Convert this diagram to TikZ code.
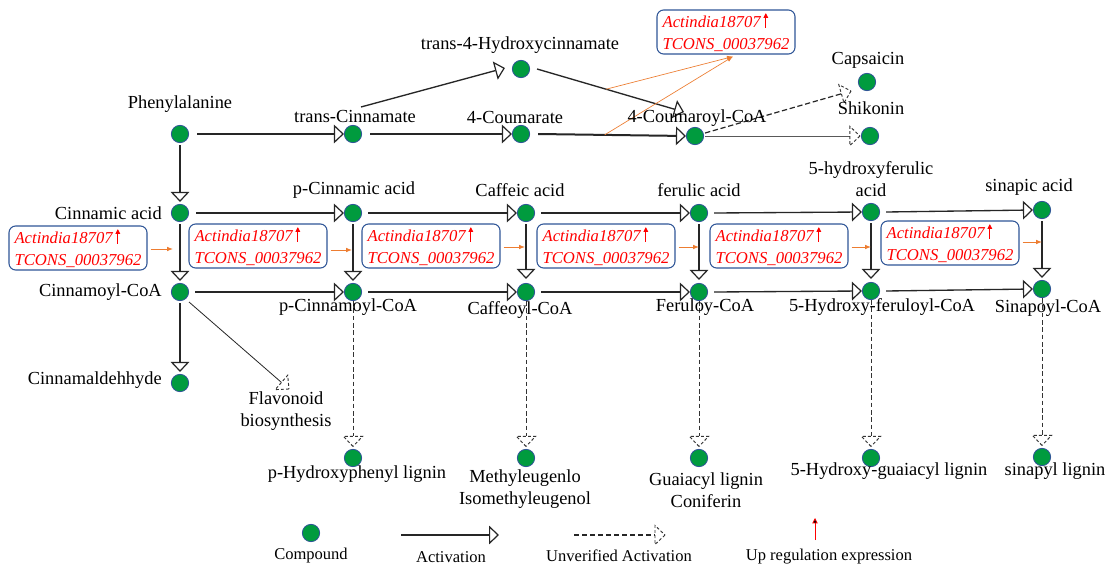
\documentclass[tikz,border=0pt]{standalone}
\usepackage{fontspec}
\setmainfont{Liberation Serif}
\usetikzlibrary{arrows.meta,calc}
\definecolor{cgreen}{RGB}{0,155,62}
\definecolor{cblue}{RGB}{47,85,151}
\definecolor{corange}{RGB}{237,125,49}
\definecolor{cred}{RGB}{255,0,0}
\newcommand{\upmark}{\,\tikz[baseline=0pt]\draw[cred,line width=0.6pt,-{Triangle[length=3.5pt,width=3.5pt]}] (0pt,-0.5pt) -- (0pt,10.5pt);}
\begin{document}
\begin{tikzpicture}[x=0.75pt,y=-0.75pt,
  cpd/.style={circle,fill=cgreen,draw=cblue,line width=0.6pt,minimum size=13pt,inner sep=0pt},
  lbl/.style={inner sep=0pt,align=center,font=\fontsize{13.8}{16.5}\selectfont},
  leg/.style={inner sep=0pt,align=center,font=\fontsize{12.4}{15}\selectfont},
  act/.style={draw=black!85,line width=1pt,-{Triangle[open,length=7.5pt,width=14pt,line width=0.9pt]}},
  udash/.style={draw=black!80,line width=0.6pt,dash pattern=on 3.5pt off 2pt},
  ldash/.style={draw=black!85,line width=0.9pt,dash pattern=on 4pt off 2pt},
  thinline/.style={draw=black!85,line width=0.6pt},
  gbox/.style={draw=cblue,rounded corners=5pt,line width=0.8pt,fill=white,minimum width=103.5pt,minimum height=33pt,inner xsep=3pt,inner ysep=2pt,align=left,text=cred,font=\fontsize{12.5}{16.5}\selectfont\itshape},
  oarr/.style={draw=corange,line width=0.7pt,-{Latex[length=4.5pt,width=3.5pt]}},
  redarr/.style={draw=cred,line width=0.6pt,-{Triangle[length=4pt,width=4pt]}},
  pics/dtip/.style={code={\draw[black!80,line width=0.7pt,dash pattern=on 2.2pt off 1.6pt] (0,0) -- (-10,9.5) -- (-10,-9.5) -- cycle;}}
]
\useasboundingbox[fill=white] (0,0) rectangle (1107,564);

% compounds
\node[cpd] (phe) at (180,134) {};
\node[cpd] (tcin) at (353,134) {};
\node[cpd] (t4h) at (521,69) {};
\node[cpd] (coum) at (521,134) {};
\node[cpd] (ccoa) at (695,136) {};
\node[cpd] (caps) at (867,82) {};
\node[cpd] (shik) at (870,136) {};
\node[cpd] (cin) at (180,213) {};
\node[cpd] (pca) at (353,213) {};
\node[cpd] (caf) at (526,213) {};
\node[cpd] (fer) at (699,213) {};
\node[cpd] (hfa) at (871,212) {};
\node[cpd] (sna) at (1042,210) {};
\node[cpd] (cic) at (180,292) {};
\node[cpd] (pcc) at (353,292) {};
\node[cpd] (cfc) at (526,292) {};
\node[cpd] (frc) at (699,292) {};
\node[cpd] (hfc) at (871,291) {};
\node[cpd] (snc) at (1042,289) {};
\node[cpd] (cald) at (180,383) {};
\node[cpd] (plig) at (353,458) {};
\node[cpd] (meth) at (526,458) {};
\node[cpd] (guai) at (699,458) {};
\node[cpd] (hgl) at (871,458) {};
\node[cpd] (slig) at (1042,457) {};

% gene boxes
\node[gbox] (b1) at (78,248) {Actindia18707\upmark\\TCONS\_00037962};
\node[gbox] (b2) at (258,246) {Actindia18707\upmark\\TCONS\_00037962};
\node[gbox] (b3) at (431,246) {Actindia18707\upmark\\TCONS\_00037962};
\node[gbox] (b4) at (606,246) {Actindia18707\upmark\\TCONS\_00037962};
\node[gbox] (b5) at (779,246) {Actindia18707\upmark\\TCONS\_00037962};
\node[gbox] (b6) at (950,243) {Actindia18707\upmark\\TCONS\_00037962};
\node[gbox] (bt) at (726,32) {Actindia18707\upmark\\TCONS\_00037962};

% top row
\draw[act] ($(phe.east)+(8,0)$) -- (tcin.west);
\draw[act] ($(tcin.east)+(8,0)$) -- (coum.west);
\draw[act,line width=1.5pt] ($(coum.east)+(8,0)$) -- coordinate[pos=0.45] (o2) (ccoa.west);
\draw[act] ($(tcin)+(8,-27)$) -- ($(t4h.west)+(-7,-1)$);
\draw[act] ($(t4h.east)+(7,0)$) -- coordinate[pos=0.47] (o1) ($(ccoa)+(-11,-24)$);
\coordinate (capt) at ($(caps)+(-16,9)$);
\draw[ldash] ($(ccoa.east)+(1,-3)$) coordinate (caps0) -- ($(capt)!7.5pt!(caps0)$);
\pic[rotate=16] at (capt) {dtip};
\draw[thinline,draw=black!65] ($(ccoa.east)+(1,0)$) -- ($(shik.west)+(-11,0)$);
\pic at ($(shik.west)+(-1,0)$) {dtip};

% acid row
\draw[act] ($(cin.east)+(7,0)$) -- (pca.west);
\draw[act] ($(pca.east)+(6,0)$) -- (caf.west);
\draw[act] ($(caf.east)+(6,0)$) -- (fer.west);
\draw[act] ($(fer.east)+(6,0)$) -- (hfa.west);
\draw[act] ($(hfa.east)+(6,0)$) -- (sna.west);

% CoA row
\draw[act] ($(cic.east)+(6,0)$) -- (pcc.west);
\draw[act] ($(pcc.east)+(6,0)$) -- (cfc.west);
\draw[act] ($(cfc.east)+(6,0)$) -- (frc.west);
\draw[act] ($(frc.east)+(6,0)$) -- (hfc.west);
\draw[act] ($(hfc.east)+(6,0)$) -- (snc.west);

% verticals
\draw[act] ($(phe.south)+(0,2)$) -- ($(cin.north)+(0,-2)$);
\draw[act] ($(cin.south)+(0,2)$) -- ($(cic.north)+(0,-2)$);
\draw[act] ($(pca.south)+(0,2)$) -- ($(pcc.north)+(0,-2)$);
\draw[act] ($(caf.south)+(0,2)$) -- ($(cfc.north)+(0,-4)$);
\draw[act] ($(fer.south)+(0,2)$) -- ($(frc.north)+(0,-3)$);
\draw[act] ($(hfa.south)+(0,2)$) -- ($(hfc.north)+(0,-3)$);
\draw[act] ($(sna.south)+(0,2)$) -- ($(snc.north)+(0,-2)$);
\draw[act] ($(cic.south)+(0,2)$) -- ($(cald.north)+(0,-2)$);

% flavonoid
\coordinate (flt) at (289,389);
\draw[thinline] ($(cic)+(9,10)$) coordinate (fl0) -- ($(flt)!7.5pt!(fl0)$);
\pic[rotate=-41] at (flt) {dtip};

% dashed to lignins
\foreach \a/\b in {pcc/plig,cfc/meth,frc/guai,hfc/hgl,snc/slig}{
  \draw[udash] (\a.south) -- ($(\b.north)+(0,-12.5)$);
  \pic[rotate=-90] at ($(\b.north)+(0,-2.5)$) {dtip};
}

% orange regulation arrows
\draw[oarr] ($(b1.east)+(3,1)$) coordinate (s1) -- ($(s1 -| cin)+(-7,0)$);
\draw[oarr] ($(b2.east)+(3,4)$) coordinate (s2) -- ($(s2 -| pca)+(-1,0)$);
\draw[oarr] ($(b3.east)+(3,1)$) coordinate (s3) -- ($(s3 -| caf)+(-1,0)$);
\draw[oarr] ($(b4.east)+(3,1)$) coordinate (s4) -- ($(s4 -| fer)+(0,0)$);
\draw[oarr] ($(b5.east)+(3,1)$) coordinate (s5) -- ($(s5 -| hfa)+(0,0)$);
\draw[oarr] ($(b6.east)+(3,-1)$) coordinate (s6) -- ($(s6 -| sna)+(0,0)$);
\coordinate (tt) at ($(bt.south)+(7,2)$);
\draw[oarr,line width=0.5pt] (o1) -- (tt);
\draw[oarr,line width=0.5pt] (o2) -- (tt);

% labels
\node[lbl] at (180,104) {Phenylalanine};
\node[lbl] at (355,116) {trans-Cinnamate};
\node[lbl] at (520,45) {trans-4-Hydroxycinnamate};
\node[lbl] at (515,117) {4-Coumarate};
\node[lbl] at (697,118) {4-Coumaroyl-CoA};
\node[lbl] at (868,60) {Capsaicin};
\node[lbl] at (871,108) {Shikonin};
\node[lbl,anchor=east] at (162,213) {Cinnamic acid};
\node[lbl] at (354,190) {p-Cinnamic acid};
\node[lbl] at (520,190) {Caffeic acid};
\node[lbl] at (699,190) {ferulic acid};
\node[lbl] at (871,179) {5-hydroxyferulic\\acid};
\node[lbl] at (1029,187) {sinapic acid};
\node[lbl,anchor=east] at (162,292) {Cinnamoyl-CoA};
\node[lbl] at (348,307) {p-Cinnamoyl-CoA};
\node[lbl] at (520,310) {Caffeoyl-CoA};
\node[lbl] at (705,307) {Feruloy-CoA};
\node[lbl] at (882,307) {5-Hydroxy-feruloyl-CoA};
\node[lbl] at (1048,308) {Sinapoyl-CoA};
\node[lbl,anchor=east] at (162,380) {Cinnamaldehhyde};
\node[lbl] at (286,411) {Flavonoid\\biosynthesis};
\node[lbl] at (357,474) {p-Hydroxyphenyl lignin};
\node[lbl] at (525,489) {Methyleugenlo\\Isomethyleugenol};
\node[lbl] at (706,490) {Guaiacyl lignin\\Coniferin};
\node[lbl] at (889,471) {5-Hydroxy-guaiacyl lignin};
\node[lbl] at (1055,471) {sinapyl lignin};

% legend
\node[cpd] (lc) at (311,533) {};
\node[leg] at (311,556) {Compound};
\coordinate (la1) at (401,535);
\coordinate (la2) at (499,535);
\draw[act] (la1) -- (la2);
\node[leg] at (451,557) {Activation};
\coordinate (ld1) at (574,535);
\coordinate (ld2) at (665,535);
\draw[ldash] (ld1) -- ($(ld2)+(-10,0)$);
\pic at (ld2) {dtip};
\node[leg] at (619,556) {Unverified Activation};
\coordinate (lr1) at (815,540);
\coordinate (lr2) at (815,518);
\draw[redarr] (lr1) -- (lr2);
\node[leg] at (829,557) {Up regulation expression};
\end{tikzpicture}
\end{document}
